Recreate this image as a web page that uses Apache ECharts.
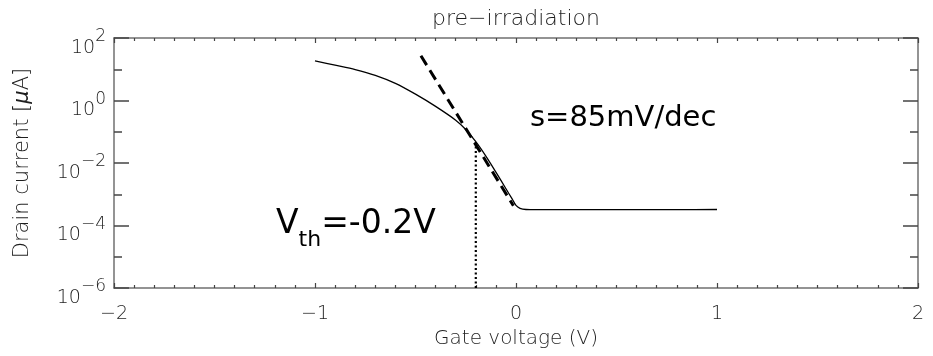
<!DOCTYPE html>
<html>
<head>
<meta charset="utf-8">
<title>pre-irradiation</title>
<script src="https://cdn.jsdelivr.net/npm/echarts@6.0.0/dist/echarts.min.js"></script>
<style>
  html, body { margin: 0; padding: 0; background: #fff; }
  #chart { width: 933px; height: 356px; }
</style>
</head>
<body>
<div id="chart"></div>
<script>
// Transfer characteristic of the transistor before irradiation
// Gate voltage in V, drain current in µA
const gateVoltage = [-1.0, -0.9, -0.8, -0.7, -0.6, -0.5, -0.4, -0.3, -0.25, -0.2, -0.15,
  -0.1, -0.05, -0.02, 0.0, 0.02, 0.05, 0.1, 0.2, 0.4, 0.6, 0.8, 1.0];
const drainCurrent = [18.5, 13.5, 9.8, 6.4, 3.55, 1.6, 0.65, 0.235, 0.118, 0.048, 0.0166,
  0.0051, 0.0015, 7.2e-4, 4.4e-4, 3.55e-4, 3.25e-4, 3.2e-4, 3.2e-4, 3.2e-4, 3.2e-4, 3.22e-4, 3.25e-4];

// Subthreshold slope fit (dashed)
const slopeVoltage = [-0.473, -0.013];
const slopeCurrent = [27, 4.3e-4];

// Threshold voltage marker (dotted)
const vthVoltage = [-0.2, -0.2];
const vthCurrent = [1e-6, 0.048];

// Axis ranges / ticks
const xTicks = [-2, -1, 0, 1, 2];
const yDecades = [-6, -4, -2, 0, 2];

const FONT = 'DejaVu Sans';
const TXT = '#1e1e1e';
const AXIS = '#707070';

// plot frame (px)
const GRID = { left: 114, right: 15, top: 38, bottom: 68 };
const W = 933;

// points on the value axis are plotted against log10 of the current
const toPoints = (xs, ys) => xs.map((x, i) => [x, Math.log10(ys[i])]);

const expLabel = v => {
  const e = v < 0 ? '\u2212' + Math.abs(v) : String(v);
  return '{b|10}{s|' + e + '}';
};

const labelRich = {
  b: { fontSize: 19, fontFamily: FONT, fontWeight: 200, color: TXT, lineHeight: 19, padding: [10, 0, 0, 0], verticalAlign: 'top' },
  s: { fontSize: 17, fontFamily: FONT, fontWeight: 200, color: TXT, lineHeight: 17, verticalAlign: 'top' }
};

function xAxisDef(pos, showLabel) {
  return {
    type: 'value', position: pos, min: xTicks[0], max: xTicks[xTicks.length - 1], interval: 1,
    axisLine: { show: true, onZero: false, lineStyle: { color: AXIS, width: 1.5 } },
    axisTick: { show: true, inside: true, length: 5, lineStyle: { color: '#444', width: 1.2 } },
    minorTick: { show: true, splitNumber: 10, length: 3, lineStyle: { color: '#444', width: 1.2 } },
    splitLine: { show: false },
    axisLabel: {
      show: showLabel, margin: 17, fontSize: 19, fontFamily: FONT, fontWeight: 200, color: TXT,
      formatter: v => (v < 0 ? '\u2212' + Math.abs(v) : String(v))
    },
    name: showLabel ? 'Gate voltage (V)' : '',
    nameLocation: 'middle', nameGap: 41,
    nameTextStyle: { fontSize: 20, fontFamily: FONT, fontWeight: 200, color: TXT }
  };
}

function yAxisDef(pos, showLabel) {
  return {
    type: 'value', position: pos, min: yDecades[0], max: yDecades[yDecades.length - 1], interval: 2,
    axisLine: { show: true, onZero: false, lineStyle: { color: AXIS, width: 1.5 } },
    axisTick: { show: true, inside: true, length: 15, lineStyle: { color: '#444', width: 1.5 } },
    minorTick: { show: true, splitNumber: 2, length: 8, lineStyle: { color: '#444', width: 1.5 } },
    splitLine: { show: false },
    axisLabel: { show: showLabel, margin: 8, formatter: expLabel, rich: labelRich },
    name: showLabel ? '{n|Drain current [}{i|\u03bc}{n|A]}' : '',
    nameLocation: 'middle', nameGap: 81, nameRotate: 90,
    nameTextStyle: {
      rich: {
        n: { fontSize: 21, fontFamily: FONT, fontWeight: 200, color: TXT },
        i: { fontSize: 21, fontFamily: FONT, fontWeight: 200, fontStyle: 'italic', color: TXT }
      }
    }
  };
}

const chart = echarts.init(document.getElementById('chart'), null, { renderer: 'canvas' });

chart.setOption({
  animation: false,
  backgroundColor: '#ffffff',
  grid: GRID,
  xAxis: [xAxisDef('bottom', true), xAxisDef('top', false)],
  yAxis: [yAxisDef('left', true), yAxisDef('right', false)],
  series: [
    {
      name: 'Id', type: 'line', smooth: 0.3, symbol: 'none',
      data: toPoints(gateVoltage, drainCurrent),
      lineStyle: { color: '#000', width: 1.3 }
    },
    {
      name: 'slope', type: 'line', symbol: 'none',
      data: toPoints(slopeVoltage, slopeCurrent),
      lineStyle: { color: '#000', width: 3, type: [11, 6] }
    },
    {
      name: 'Vth', type: 'line', symbol: 'none',
      data: toPoints(vthVoltage, vthCurrent),
      lineStyle: { color: '#000', width: 2.2, type: [2, 2.5] }
    }
  ],
  graphic: [
    {
      // title centred over the plot frame
      type: 'text', x: GRID.left + (W - GRID.left - GRID.right) / 2, y: 8,
      style: {
        text: 'pre\u2212irradiation', align: 'center', verticalAlign: 'top',
        fontSize: 22, fontFamily: FONT, fontWeight: 200, fill: TXT
      }
    },
    {
      type: 'text', left: 530, top: 104,
      style: { text: 's=85mV/dec', fontSize: 29, fontFamily: FONT, fill: '#000' }
    },
    {
      type: 'text', left: 276, top: 208,
      style: {
        text: '{v|V}{t|th}{v|=-0.2V}',
        rich: {
          v: { fontSize: 33, fontFamily: FONT, color: '#000', lineHeight: 36, verticalAlign: 'top' },
          t: { fontSize: 22, fontFamily: FONT, color: '#000', lineHeight: 22, padding: [21, 0, 0, 0], verticalAlign: 'top' }
        }
      }
    }
  ]
});
</script>
</body>
</html>
